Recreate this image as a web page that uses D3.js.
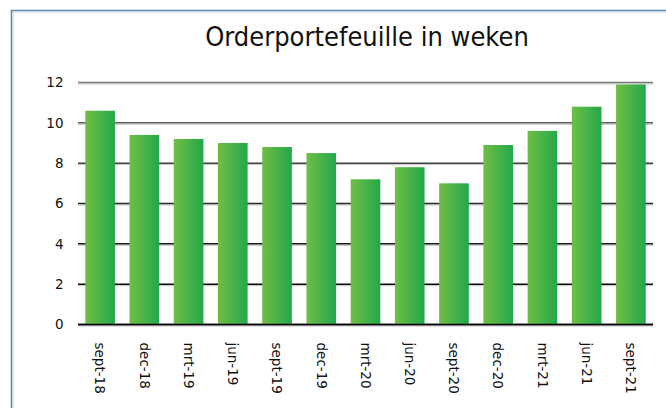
<!DOCTYPE html>
<html>
<head>
<meta charset="utf-8">
<script src="https://cdn.jsdelivr.net/npm/d3@7"></script>
<style>
  body { margin: 0; background: #fff; }
  svg { display: block; font-family: "DejaVu Sans", Verdana, sans-serif; }
</style>
</head>
<body>
<div id="vis"></div>
<script>
const categories = ["sept-18", "dec-18", "mrt-19", "jun-19", "sept-19", "dec-19", "mrt-20",
                    "jun-20", "sept-20", "dec-20", "mrt-21", "jun-21", "sept-21"];
const weeks = [10.6, 9.4, 9.2, 9.0, 8.8, 8.5, 7.2, 7.8, 7.0, 8.9, 9.6, 10.8, 11.9];
const yTicks = [0, 2, 4, 6, 8, 10, 12];
const title = "Orderportefeuille in weken";

const FRAME_WIDTH = 666;
const FRAME_HEIGHT = 408;
const MARGINS = {left: 78, right: 13, top: 82.5, bottom: 83.5};

const svg = d3.select("#vis")
  .append("svg")
    .attr("width", FRAME_WIDTH)
    .attr("height", FRAME_HEIGHT);

// bar gradient, light green left to darker green right
const defs = svg.append("defs");
const grad = defs.append("linearGradient")
    .attr("id", "barGrad")
    .attr("x1", "0%").attr("x2", "100%")
    .attr("y1", "0%").attr("y2", "0%");
grad.append("stop").attr("offset", "0%").attr("stop-color", "#70be44");
grad.append("stop").attr("offset", "100%").attr("stop-color", "#22a84b");

// outer frame (only left and top visible)
svg.append("path")
    .attr("d", "M11.5," + FRAME_HEIGHT + " V10.5 H" + FRAME_WIDTH)
    .attr("fill", "none")
    .attr("stroke", "#5a8cab")
    .attr("stroke-width", 1.6);
svg.append("path")
    .attr("d", "M13," + FRAME_HEIGHT + " V12 H" + FRAME_WIDTH)
    .attr("fill", "none")
    .attr("stroke", "#c5d6e2")
    .attr("stroke-width", 1);

const xScale = d3.scaleBand()
  .domain(categories)
  .range([MARGINS.left, FRAME_WIDTH - MARGINS.right])
  .paddingInner(0.33)
  .paddingOuter(0.165);

const yScale = d3.scaleLinear()
  .domain([0, 12])
  .range([FRAME_HEIGHT - MARGINS.bottom, MARGINS.top]);

const gridColor = d3.scaleLinear()
  .domain([0, 5, 12])
  .range(["#000000", "#1a1a1a", "#777777"]);

// gridlines with a light shadow underneath
const grid = svg.append("g").attr("class", "grid");
grid.selectAll(".shadow")
  .data(yTicks)
  .enter()
  .append("line")
    .attr("class", "shadow")
    .attr("x1", MARGINS.left)
    .attr("x2", FRAME_WIDTH - MARGINS.right)
    .attr("y1", (d) => yScale(d) + 1.5)
    .attr("y2", (d) => yScale(d) + 1.5)
    .attr("stroke", "#c4c4c4")
    .attr("stroke-width", 1);
grid.selectAll(".main")
  .data(yTicks)
  .enter()
  .append("line")
    .attr("class", "main")
    .attr("x1", MARGINS.left)
    .attr("x2", FRAME_WIDTH - MARGINS.right)
    .attr("y1", (d) => yScale(d))
    .attr("y2", (d) => yScale(d))
    .attr("stroke", (d) => gridColor(d))
    .attr("stroke-width", 1.5);

// bars
svg.selectAll(".bar")
  .data(categories)
  .enter()
  .append("rect")
    .attr("class", "bar")
    .attr("x", (d) => xScale(d))
    .attr("y", (d, i) => yScale(weeks[i]))
    .attr("width", xScale.bandwidth())
    .attr("height", (d, i) => yScale(0) - yScale(weeks[i]))
    .attr("fill", "url(#barGrad)");

// base axis line on top of bars
svg.append("line")
  .attr("x1", MARGINS.left)
  .attr("x2", FRAME_WIDTH - MARGINS.right)
  .attr("y1", yScale(0))
  .attr("y2", yScale(0))
  .attr("stroke", "#000")
  .attr("stroke-width", 1.5);

// y axis labels
const yAxis = svg.append("g")
  .attr("transform", "translate(" + MARGINS.left + ",0)")
  .call(d3.axisLeft(yScale).tickValues(yTicks).tickSize(0).tickPadding(14.5));
yAxis.select(".domain").remove();
yAxis.selectAll("text")
  .attr("font-size", 13.5)
  .attr("font-family", "DejaVu Sans, Verdana, sans-serif")
  .attr("fill", "#111");

// x axis labels, rotated to read top-down
const xAxis = svg.append("g")
  .attr("transform", "translate(0," + yScale(0) + ")")
  .call(d3.axisBottom(xScale).tickSize(0));
xAxis.select(".domain").remove();
xAxis.selectAll("text")
  .attr("font-size", 13.5)
  .attr("font-family", "DejaVu Sans, Verdana, sans-serif")
  .attr("fill", "#111")
  .attr("text-anchor", "start")
  .attr("transform", "rotate(90)")
  .attr("x", 18)
  .attr("y", 0)
  .attr("dy", "0.35em");

// title
svg.append("text")
  .attr("x", 367)
  .attr("y", 46)
  .attr("text-anchor", "middle")
  .attr("font-size", 27)
  .attr("font-family", "DejaVu Sans Condensed, DejaVu Sans, sans-serif")
  .attr("font-stretch", "condensed")
  .attr("fill", "#111")
  .text(title);
</script>
</body>
</html>
